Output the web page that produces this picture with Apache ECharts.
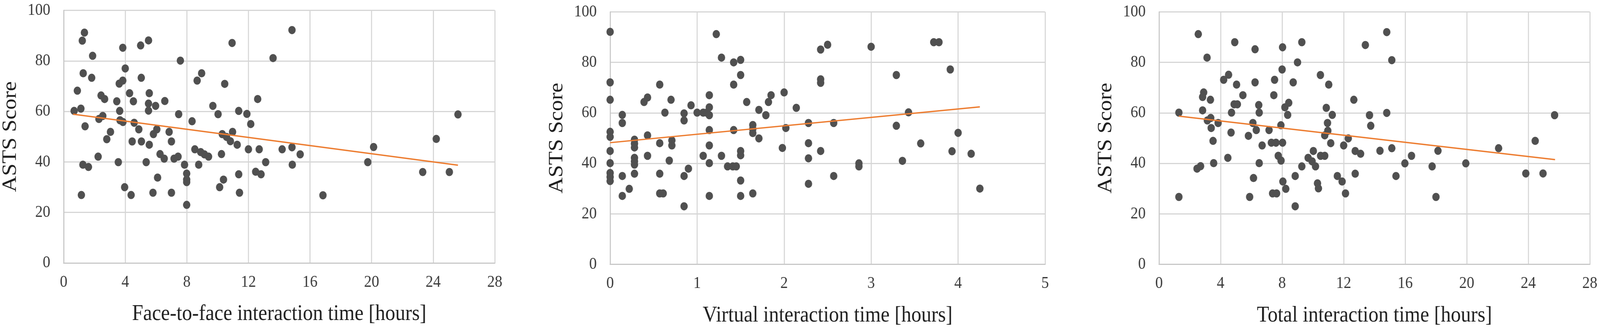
<!DOCTYPE html>
<html>
<head>
<meta charset="utf-8">
<script src="https://cdn.jsdelivr.net/npm/echarts@6/dist/echarts.min.js"></script>
<style>
html,body{margin:0;padding:0;background:#fff;overflow:hidden;}
#chart{width:4550px;height:842px;transform-origin:0 0;}
</style>
</head>
<body>
<div id="chart"></div>
<script>
// Panel 1: Face-to-face interaction time [hours] vs ASTS Score
const f2fPoints = [
[1.35,91.2],[1.21,88.0],[1.88,82.0],[3.84,85.2],[5.0,86.1],[5.51,88.1],[7.58,80.1],[10.94,87.1],[14.83,92.2],[13.6,81.1],
[1.27,75.1],[1.82,73.3],[4.0,77.0],[3.61,71.0],[3.84,72.2],[5.04,73.3],[0.89,68.2],[2.43,66.3],[2.66,64.9],[3.45,64.0],
[4.28,67.2],[4.53,64.0],[5.56,67.2],[5.51,63.1],[5.51,60.3],[5.97,62.2],[6.57,64.1],[8.67,72.2],[8.96,75.1],[10.46,70.9],
[12.6,64.9],[9.69,62.2],[10.03,58.9],[11.37,60.2],[11.9,59.0],[12.15,55.0],[0.68,60.2],[1.12,61.1],[3.64,60.2],[2.29,57.0],
[2.54,58.2],[1.39,54.1],[3.66,56.5],[3.85,55.8],[4.58,55.5],[4.88,52.9],[7.47,58.9],[8.34,56.1],[3.04,51.9],[2.8,49.0],
[4.45,48.1],[5.05,48.1],[5.56,46.8],[5.83,51.0],[6.05,52.9],[6.85,51.9],[7.0,48.1],[10.3,51.0],[10.58,49.9],[10.97,51.9],
[10.83,48.2],[11.27,46.8],[12.0,45.0],[12.7,45.0],[14.19,45.0],[14.83,45.8],[2.24,42.1],[3.55,39.9],[5.36,39.9],[6.26,43.1],
[6.53,41.3],[7.17,41.3],[7.43,42.1],[8.52,45.0],[8.9,43.9],[9.14,43.0],[9.41,42.1],[10.25,43.1],[7.85,38.9],[8.77,38.9],
[1.25,38.9],[1.61,38.0],[13.12,39.9],[12.47,36.1],[12.82,35.1],[11.37,35.1],[14.85,38.9],[15.36,43.0],[6.1,33.8],[7.99,35.4],
[7.99,33.0],[7.99,32.0],[10.38,33.0],[10.13,30.0],[3.96,30.0],[1.15,26.9],[4.38,26.9],[5.8,27.8],[7.0,27.8],[11.42,27.8],
[7.99,23.0],[16.84,26.8],[19.75,39.9],[20.13,45.9],[23.32,36.0],[24.2,49.1],[25.05,36.0],[25.61,58.8]
];
const f2fTrend = [[0.61,58.9],[25.61,38.7]];

// Panel 2: Virtual interaction time [hours] vs ASTS Score
const virtPoints = [
[0,92.1],[0,72.1],[0,65.2],[0,52.5],[0,50.5],[0,44.9],[0,40.1],[0,36.2],[0,34.6],[0,33.0],
[0.14,59.2],[0.14,56.0],[0.14,35.0],[0.14,27.1],[0.22,29.9],[0.28,49.4],[0.28,47.8],[0.28,46.3],[0.28,42.2],[0.28,40.8],
[0.28,39.5],[0.28,35.9],[0.39,64.3],[0.43,66.1],[0.43,51.1],[0.43,43.0],[0.57,71.2],[0.63,60.1],[0.57,48.0],[0.57,35.9],
[0.57,28.1],[0.61,28.1],[0.70,65.2],[0.71,49.1],[0.71,47.1],[0.68,41.1],[0.85,59.8],[0.85,57.0],[0.93,63.0],[0.85,35.0],
[0.90,37.9],[0.85,23.0],[1.0,60.1],[1.07,60.1],[1.11,60.1],[1.14,67.0],[1.14,62.2],[1.14,59.1],[1.14,53.2],[1.14,47.1],
[1.07,43.0],[1.14,40.1],[1.14,27.1],[1.22,91.2],[1.28,81.9],[1.42,80.0],[1.50,81.0],[1.50,75.0],[1.42,71.2],[1.57,64.3],
[1.28,43.0],[1.35,38.8],[1.41,38.8],[1.45,38.8],[1.42,53.2],[1.50,44.9],[1.50,43.2],[1.50,33.2],[1.50,27.1],[1.64,55.2],
[1.64,53.6],[1.64,52.0],[1.64,28.1],[1.71,61.2],[1.79,59.1],[1.82,64.3],[1.85,67.0],[1.71,49.9],[2.0,68.1],[2.02,54.0],
[1.98,46.1],[2.14,62.0],[2.28,56.0],[2.28,48.0],[2.28,42.0],[2.28,31.9],[2.42,85.1],[2.50,87.0],[2.42,73.3],[2.42,71.9],
[2.42,44.9],[2.57,56.0],[2.57,35.0],[2.86,40.0],[2.86,38.8],[3.0,86.2],[3.29,75.0],[3.29,54.9],[3.43,60.2],[3.36,41.0],
[3.57,47.9],[3.72,88.0],[3.78,88.0],[3.91,77.2],[3.93,44.8],[4.0,52.1],[4.15,43.8],[4.25,30.0]
];
const virtTrend = [[0,48.2],[4.25,62.4]];

// Panel 3: Total interaction time [hours] vs ASTS Score
const totPoints = [
[1.29,60.1],[1.29,26.7],[2.55,91.2],[3.12,81.9],[2.9,68.1],[2.83,66.3],[3.34,65.2],[2.83,61.0],[3.14,57.0],[3.36,58.0],
[3.39,54.0],[3.51,48.9],[3.84,56.0],[2.47,37.9],[2.70,38.9],[3.55,40.1],[4.2,73.1],[4.52,75.1],[4.92,88.0],[5.04,71.2],
[5.45,67.0],[4.88,63.4],[5.09,63.4],[4.71,60.1],[4.68,52.2],[4.47,42.2],[6.24,85.2],[6.24,72.1],[6.48,63.1],[6.51,60.1],
[6.1,56.0],[6.32,53.2],[5.81,50.9],[6.70,47.1],[6.51,40.1],[6.14,34.2],[5.89,26.7],[8.03,86.0],[8.0,77.2],[7.51,73.1],
[7.46,67.0],[7.15,53.2],[7.92,55.1],[8.18,62.2],[8.43,64.0],[8.36,59.2],[7.3,48.2],[7.6,48.2],[8.03,48.2],[7.75,43.0],
[7.93,41.1],[8.05,32.8],[8.24,29.9],[7.38,28.1],[7.64,28.1],[8.85,23.0],[8.85,35.0],[9.28,88.0],[9.0,80.0],[8.72,72.1],
[9.28,38.8],[9.69,42.2],[9.95,40.8],[10.17,38.8],[10.03,44.9],[10.3,32.1],[10.36,30.1],[10.5,43.0],[10.77,43.0],[10.49,75.0],
[11.03,71.2],[10.87,62.0],[11.26,59.2],[10.95,56.0],[10.97,52.9],[10.77,51.1],[11.16,48.0],[11.59,35.0],[11.9,32.8],[12.12,28.1],
[12.0,47.1],[12.3,49.9],[12.66,65.2],[12.75,44.9],[12.75,35.9],[14.8,92.0],[13.41,86.9],[15.13,80.9],[13.68,59.1],[14.8,60.0],
[13.76,54.9],[13.1,43.8],[14.36,45.0],[15.13,46.0],[16.41,43.0],[15.98,40.0],[15.4,35.0],[18.13,45.0],[17.75,38.8],[18.0,26.7],
[19.94,40.0],[22.07,46.0],[23.84,36.0],[24.45,48.9],[24.96,36.0],[25.71,59.1]
];
const totTrend = [[1.29,58.7],[25.74,41.5]];

const xTitles = ['Face-to-face interaction time [hours]','Virtual interaction time [hours]','Total interaction time [hours]'];
const yTitle = 'ASTS Score';
const xRanges = [[0,28,4],[0,5,1],[0,28,4]];
const yRange = [0,100,20];

const FONT = 'Liberation Serif, Times New Roman, serif';
const W = 4550, H = 842;
const grids = [
  {left:181, top:26.5, width:1226, height:646.5},
  {left:1735, top:30.5, width:1237, height:646},
  {left:3296, top:30.5, width:1225, height:646}
];
const pointSets = [f2fPoints, virtPoints, totPoints];
const trendSets = [f2fTrend, virtTrend, totTrend];

const lineCol = '#d6d6d6';
const xAxes = [], yAxes = [], series = [];
for (let i=0;i<3;i++){
  xAxes.push({
    type:'value', gridIndex:i, min:xRanges[i][0], max:xRanges[i][1], interval:xRanges[i][2],
    name:xTitles[i], nameLocation:'middle', nameGap:103,
    nameTextStyle:{fontFamily:FONT, fontSize:57, color:'#1f1f1f'},
    axisLine:{show:true, lineStyle:{color:'#c8c8c8', width:3}},
    axisTick:{show:false},
    axisLabel:{fontFamily:FONT, fontSize:43, color:'#3a3a3a', margin:28},
    splitLine:{show:true, lineStyle:{color:lineCol, width:3}}
  });
  yAxes.push({
    type:'value', gridIndex:i, min:yRange[0], max:yRange[1], interval:yRange[2],
    name:yTitle, nameLocation:'middle', nameGap:122,
    nameTextStyle:{fontFamily:FONT, fontSize:57, color:'#1f1f1f'},
    axisLine:{show:true, lineStyle:{color:'#c8c8c8', width:3}},
    axisTick:{show:false},
    axisLabel:{fontFamily:FONT, fontSize:43, color:'#3a3a3a', margin:38},
    splitLine:{show:true, lineStyle:{color:lineCol, width:3}}
  });
  series.push({
    type:'scatter', xAxisIndex:i, yAxisIndex:i, data:pointSets[i],
    symbolSize:21, itemStyle:{color:'#505050', opacity:1}, z:2, silent:true
  });
  series.push({
    type:'line', xAxisIndex:i, yAxisIndex:i, data:trendSets[i],
    symbol:'none', lineStyle:{color:'#ED7D31', width:3.5}, z:3, silent:true
  });
}

const el = document.getElementById('chart');
function fit(){
  const sx = (window.innerWidth || W) / W;
  const sy = (window.innerHeight || H) / H;
  el.style.transform = 'scale(' + sx + ',' + sy + ')';
}
fit();
const chart = echarts.init(el, null, {renderer:'canvas', width:W, height:H});
chart.setOption({
  animation:false,
  backgroundColor:'#ffffff',
  grid:grids,
  xAxis:xAxes,
  yAxis:yAxes,
  series:series
});
window.addEventListener('resize', fit);
</script>
</body>
</html>
